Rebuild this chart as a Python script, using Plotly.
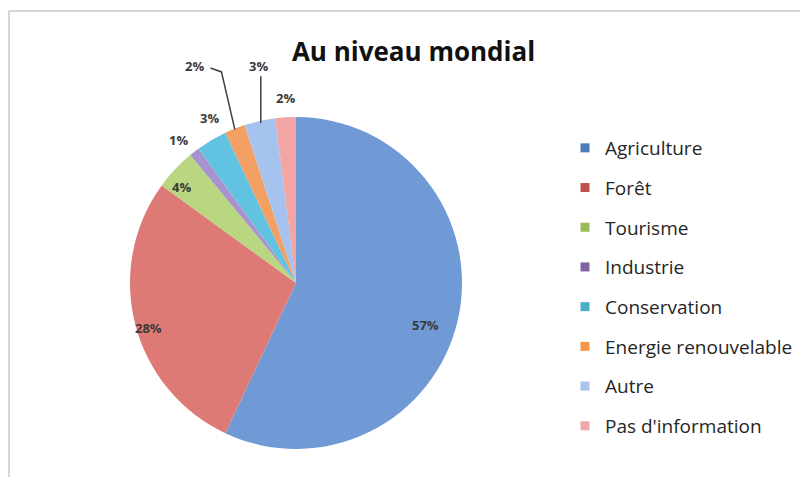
import numpy as np
import plotly.graph_objects as go

labels = ["Agriculture", "Forêt", "Tourisme", "Industrie", "Conservation",
          "Energie renouvelable", "Autre", "Pas d'information"]
values = [57, 28, 4, 1, 3, 2, 3, 2]
slice_colors = ["#6f9ad6", "#de7a76", "#b8d780", "#a894cc", "#62c2e2",
                "#f2a063", "#a6c2ee", "#f2a5a3"]
legend_colors = ["#4a7ebb", "#c0504d", "#9bbb59", "#8064a2", "#4bacc6",
                 "#f79646", "#a7c3ee", "#f2a6a6"]

# label placement (radius factor, pixel nudges); leader lines for two labels
label_k = [0.82, 0.93, 0.90, 1.12, 1.12, 1.40, 1.32, 1.115]
label_dx = [-3, 2, -6, -4, 8, -16, 10, 1]
label_dy = [12, 7, 6, 4, -5, -1, -3, 0]
leader = [None, None, None, None, None, "elbow", "straight", None]

W, H = 800, 469          # page body adds an 8px margin
cx, cy, r = 288, 275, 166

fig = go.Figure()
fig.add_trace(go.Pie(
    labels=labels, values=values, sort=False, direction="clockwise", rotation=0,
    marker=dict(colors=slice_colors, line=dict(width=0)),
    textinfo="none", showlegend=False, hoverinfo="label+percent",
    domain=dict(x=[(cx - r) / W, (cx + r) / W], y=[1 - (cy + r) / H, 1 - (cy - r) / H]),
))

# legend entries as empty scatter points, one group each for spacing
for lab, col in zip(labels, legend_colors):
    fig.add_trace(go.Scatter(
        x=[None], y=[None], mode="markers", name=lab, legendgroup=lab,
        marker=dict(symbol="square", size=9, color=col),
    ))

total = float(sum(values))
cum = np.cumsum([0] + values[:-1])
mid = np.radians((cum + np.array(values) / 2.0) / total * 360)

annotations = []
shapes = [
    dict(type="line", xref="paper", yref="paper", x0=1 / W, x1=1.01,
         y0=1 - 3 / H, y1=1 - 3 / H, line=dict(color="#d6d6d6", width=2)),
    dict(type="line", xref="paper", yref="paper", x0=1 / W, x1=1 / W,
         y0=1 - 3 / H, y1=-0.01, line=dict(color="#d6d6d6", width=2)),
]
for i, v in enumerate(values):
    s, c = np.sin(mid[i]), np.cos(mid[i])
    lx = cx + label_k[i] * r * s + label_dx[i]
    ly = cy - label_k[i] * r * c + label_dy[i]
    annotations.append(dict(
        x=lx / W, y=1 - ly / H, xref="paper", yref="paper", showarrow=False,
        xanchor="center", yanchor="middle",
        text="<b>%d%%</b>" % round(100 * v / total),
        font=dict(family="Open Sans", size=13, color="#3a3a3a"),
    ))
    ex, ey = cx + r * s, cy - r * c
    if leader[i] == "elbow":
        pts = [(ex, ey + 1), (lx + 27, ly + 6), (lx + 16, ly + 2)]
    elif leader[i] == "straight":
        pts = [(ex + 1, ey + 2), (ex + 1, ly + 10)]
    else:
        continue
    path = "M " + " L ".join("%.4f,%.4f" % (px / W, 1 - py / H) for px, py in pts)
    shapes.append(dict(type="path", xref="paper", yref="paper", path=path,
                       line=dict(color="#404040", width=1.5)))

fig.update_layout(
    width=W, height=H,
    margin=dict(l=0, r=0, t=0, b=0),
    paper_bgcolor="white", plot_bgcolor="white",
    title=dict(text="<b>Au niveau mondial</b>", x=405.5 / W, xanchor="center",
               y=1 - 44 / H, yanchor="middle",
               font=dict(family="Open Sans", size=26, color="#111111")),
    xaxis=dict(visible=False), yaxis=dict(visible=False),
    legend=dict(x=557 / W, xanchor="left", y=1 - 121 / H, yanchor="top",
                font=dict(family="Open Sans", size=19, color="#262626"),
                tracegroupgap=12, bgcolor="rgba(0,0,0,0)"),
    annotations=annotations,
    shapes=shapes,
)

fig.write_html("out.html")
